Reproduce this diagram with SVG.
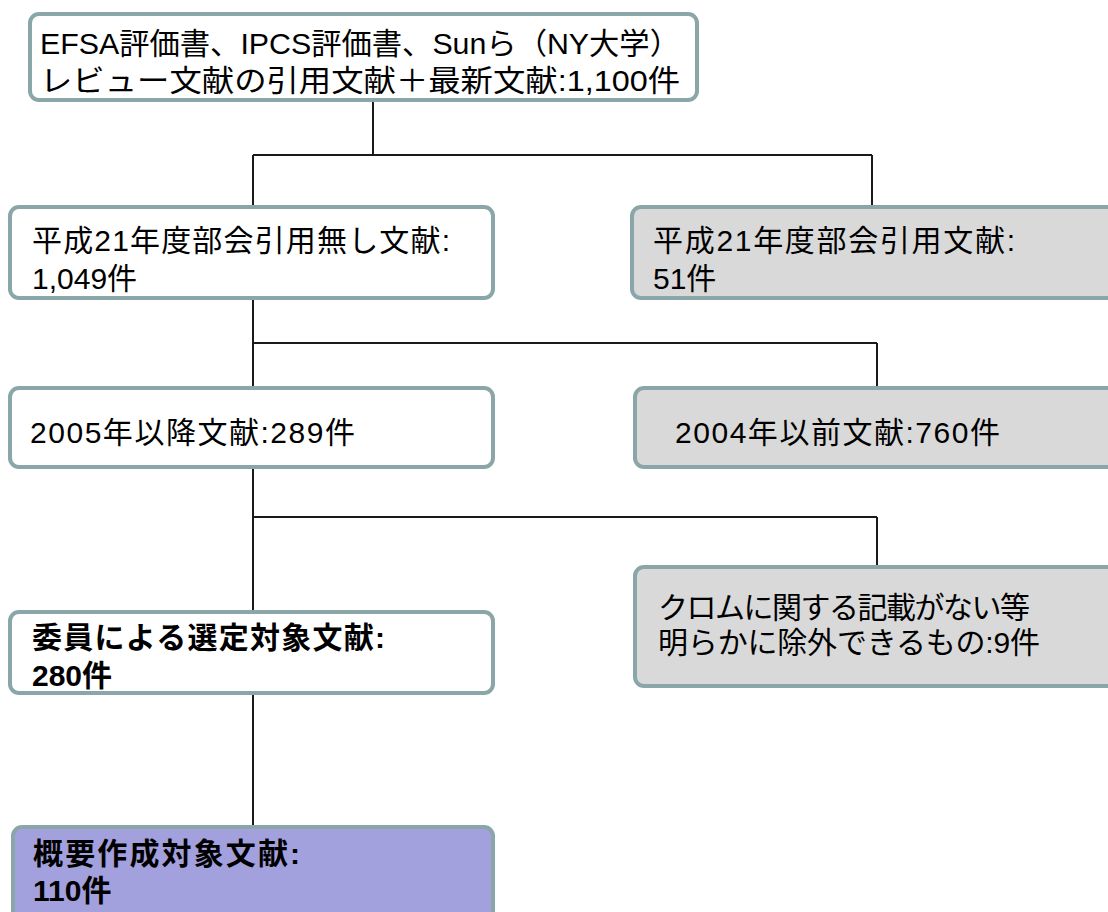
<svg xmlns="http://www.w3.org/2000/svg" width="1108" height="912" viewBox="0 0 1108 912">
<style>
.box{stroke:#8aa6a8;stroke-width:4}
.w{fill:#ffffff}
.g{fill:#d9d9d9}
.p{fill:#a3a1dd}
.t{font-family:"Liberation Sans","Noto Sans CJK JP",sans-serif;font-size:30px;fill:#000}
.b{font-weight:bold}
.c{stroke:#1a1a1a;stroke-width:2;fill:none}
</style>
<rect width="1108" height="912" fill="#ffffff"/>
<g id="connectors">
<path class="c" d="M373 100V155M253 155H872M253 155V207M872 155V207"/>
<path class="c" d="M253 298V343M253 343H877M253 343V388M877 343V388"/>
<path class="c" d="M253 467V517M253 517H877M253 517V612M877 517V567"/>
<path class="c" d="M253 693V827"/>
</g>
<g id="n1">
<rect class="box w" x="30" y="14" width="667" height="86" rx="9"/>
<text class="t" x="40" y="54" textLength="640" lengthAdjust="spacingAndGlyphs">EFSA評価書、IPCS評価書、Sunら（NY大学）</text>
<text class="t" x="40" y="91" textLength="640" lengthAdjust="spacingAndGlyphs">レビュー文献の引用文献＋最新文献:1,100件</text>
</g>
<g id="n2">
<rect class="box w" x="10" y="207" width="483" height="91" rx="9"/>
<text class="t" x="32" y="251" textLength="418" lengthAdjust="spacing">平成21年度部会引用無し文献:</text>
<text class="t" x="32" y="289">1,049件</text>
</g>
<g id="n3">
<rect class="box g" x="632" y="207" width="490" height="91" rx="9"/>
<text class="t" x="653" y="251" textLength="362" lengthAdjust="spacing">平成21年度部会引用文献:</text>
<text class="t" x="653" y="289">51件</text>
</g>
<g id="n4">
<rect class="box w" x="10" y="388" width="483" height="79" rx="9"/>
<text class="t" x="30" y="443" textLength="325" lengthAdjust="spacing">2005年以降文献:289件</text>
</g>
<g id="n5">
<rect class="box g" x="635" y="388" width="490" height="79" rx="9"/>
<text class="t" x="675" y="443" textLength="325" lengthAdjust="spacing">2004年以前文献:760件</text>
</g>
<g id="n6">
<rect class="box w" x="10" y="612" width="483" height="81" rx="9"/>
<text class="t b" x="32" y="648" textLength="353" lengthAdjust="spacing">委員による選定対象文献:</text>
<text class="t b" x="32" y="686">280件</text>
</g>
<g id="n7">
<rect class="box g" x="635" y="567" width="490" height="119" rx="9"/>
<text class="t" x="658" y="618" textLength="372" lengthAdjust="spacing">クロムに関する記載がない等</text>
<text class="t" x="658" y="653" textLength="382" lengthAdjust="spacing">明らかに除外できるもの:9件</text>
</g>
<g id="n8">
<rect class="box p" x="13" y="827" width="480" height="100" rx="9"/>
<text class="t b" x="33" y="864" textLength="267" lengthAdjust="spacing">概要作成対象文献:</text>
<text class="t b" x="33" y="901">110件</text>
</g>
</svg>
